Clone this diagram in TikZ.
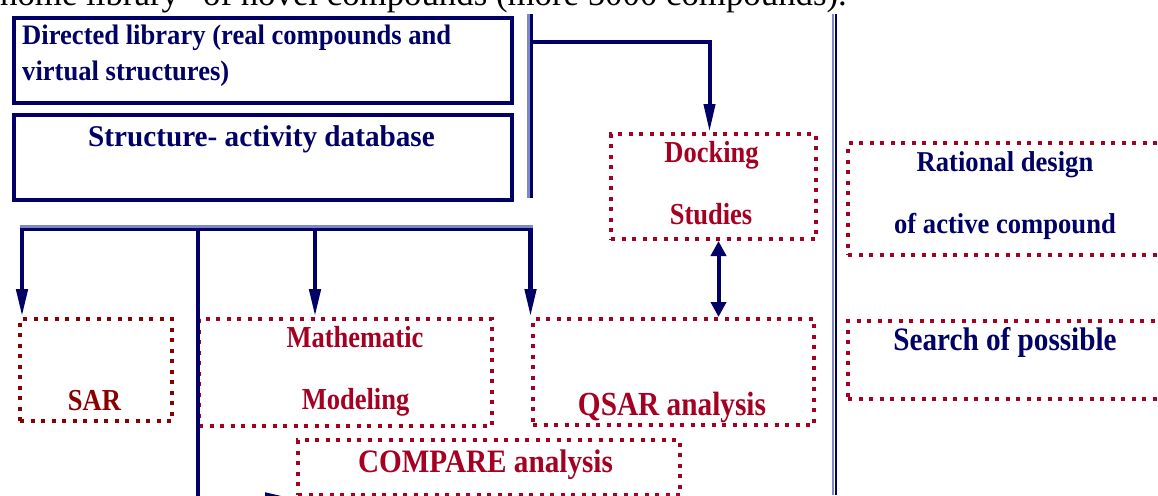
\documentclass[tikz,border=0pt]{standalone}
\usepackage{fontspec}
\usepackage{graphicx}
\setmainfont{Liberation Serif}
\usetikzlibrary{arrows.meta}
\definecolor{navy}{HTML}{000066}
\definecolor{lblue}{HTML}{7C88C8}
\definecolor{dred}{HTML}{A50021}
\definecolor{mred}{HTML}{880000}
\newcommand\vstr[2]{\scalebox{1}[#1]{#2}}
\tikzset{
  solidbox/.style={draw=navy, line width=4pt, inner sep=0pt, anchor=north west},
  dotbox/.style={draw=dred, line width=4pt, dash pattern=on 4pt off 6.5pt, inner sep=0pt, anchor=north west},
  conn/.style={draw=navy, line width=4.5pt},
  downarr/.style={-{Triangle[length=28pt,width=11pt]}},
  dblarr/.style={{Triangle[length=15pt,width=15pt]}-{Triangle[length=15pt,width=15pt]}},
  bluetxt/.style={text=navy, font=\bfseries\fontsize{26.6}{30}\selectfont, inner sep=0pt, anchor=base},
  redtxt/.style={text=dred, font=\bfseries\fontsize{26.5}{30}\selectfont, inner sep=0pt, anchor=base},
  sep/.style={line width=2.5pt}
}
\begin{document}
\begin{tikzpicture}[x=1pt,y=-1pt]
\useasboundingbox (0,0) rectangle (1158,495);
\clip (0,0) rectangle (1158,495);

% clipped text line at top
\node[inner sep=0pt, anchor=base west, font=\fontsize{34.8}{38}\selectfont] (toptext) at (0,6) {home library" of novel compounds (more 5000 compounds).};

% top-left boxes
\node[solidbox, minimum width=498pt, minimum height=84.5pt] (lib) at (12,16) {};
\node[solidbox, minimum width=498pt, minimum height=85.5pt] (db) at (12,112.5) {};
\node[bluetxt, anchor=base west] (libt1) at (22,45) {\vstr{1.06}{Directed library (real compounds and}};
\node[bluetxt, anchor=base west] (libt2) at (22,80) {\vstr{1.06}{virtual structures)}};
\node[bluetxt, font=\bfseries\fontsize{29.2}{32}\selectfont] (dbt) at (261.5,146) {\vstr{1.03}{Structure- activity database}};

% separators
\draw[sep, draw=lblue] (528.5,14) -- (528.5,198);
\draw[sep, draw=navy] (531.5,14) -- (531.5,198);
\draw[sep, draw=lblue] (833,14) -- (833,495);
\draw[sep, draw=navy] (836,14) -- (836,495);

% dotted boxes
\node[dotbox, minimum width=205pt, minimum height=105pt] (dock) at (609,132) {};
\node[dotbox, minimum width=340pt, minimum height=112pt] (rat) at (846,141) {};
\node[dotbox, minimum width=340pt, minimum height=78pt] (search) at (846,319) {};
\node[dotbox, draw=mred, minimum width=152pt, minimum height=102pt] (sar) at (18,317) {};
\node[dotbox, minimum width=293pt, minimum height=107pt] (math) at (197,317) {};
\node[dotbox, minimum width=281pt, minimum height=106pt] (qsar) at (531,317) {};
\node[dotbox, minimum width=382pt, minimum height=55pt] (cmp) at (296,438) {};

% texts
\node[redtxt] (dockt1) at (711.5,162) {\vstr{1.15}{Docking}};
\node[redtxt] (dockt2) at (711,224) {\vstr{1.15}{Studies}};
\node[bluetxt] (ratt1) at (1005,171) {\vstr{1.08}{Rational design}};
\node[bluetxt] (ratt2) at (1005,233) {\vstr{1.08}{of active compound}};
\node[bluetxt, font=\bfseries\fontsize{29.2}{32}\selectfont] (searcht) at (1005,350) {\vstr{1.12}{Search of possible}};
\node[redtxt, text=mred] (sart) at (94.5,410) {\vstr{1.15}{SAR}};
\node[redtxt] (matht1) at (355,347) {\vstr{1.15}{Mathematic}};
\node[redtxt] (matht2) at (355.5,409) {\vstr{1.15}{Modeling}};
\node[redtxt, font=\bfseries\fontsize{29.3}{32}\selectfont] (qsart) at (672,415) {\vstr{1.15}{QSAR analysis}};
\node[redtxt, font=\bfseries\fontsize{29.2}{32}\selectfont] (cmpt) at (485.5,472) {\vstr{1.12}{COMPARE analysis}};

% connector from library to docking
\coordinate (topc) at (533,42.5);
\draw[conn, line width=4pt, downarr] (topc) -| ([xshift=-4pt]dock.north);

% bus
\coordinate (busL) at (22,229.5);
\coordinate (busC) at (198,229.5);
\coordinate (busM) at (315,229.5);
\coordinate (busR) at (530.5,229.5);
\draw[line width=2.5pt, draw=lblue] (19.5,226.5) -- (532.5,226.5);
\draw[line width=3pt, draw=navy] (19.5,229.5) -- (532.5,229.5);
\draw[conn, downarr] (busL) -- (busL |- sar.north);
\draw[conn, downarr] (busM) -- (busM |- math.north);
\draw[conn, downarr] (busR) -- (busR |- qsar.north);
\draw[conn, -{Triangle[length=27pt,width=10pt]}] (busC) |- ([xshift=-4pt,yshift=-1pt]cmp.south west);

% docking <-> qsar
\draw[conn, line width=4pt, dblarr] ([xshift=5pt]dock.south) -- ([xshift=5pt]dock.south |- qsar.north);
\end{tikzpicture}
\end{document}
